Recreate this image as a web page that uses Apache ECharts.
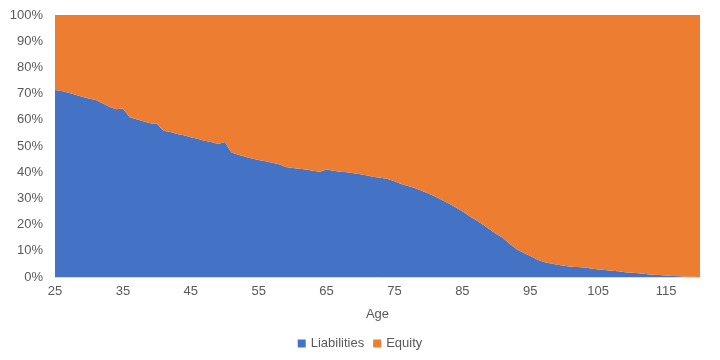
<!DOCTYPE html>
<html>
<head>
<meta charset="utf-8">
<script src="https://cdn.jsdelivr.net/npm/echarts@6/dist/echarts.min.js"></script>
<style>html,body{margin:0;padding:0;background:#fff;}#c{width:720px;height:360px;}</style>
</head>
<body>
<div id="c"></div>
<script>
const ages = [];
for (let a = 25; a <= 120; a++) ages.push(String(a));

const liabilities = [
  71.4, 71.0, 70.3, 69.6, 68.8, 68.1, 67.6, 66.3, 65.0, 64.0,
  64.3, 61.0, 60.2, 59.4, 58.7, 58.5, 55.8, 55.3, 54.6, 54.1,
  53.3, 52.8, 52.0, 51.5, 50.8, 51.5, 47.5, 46.7, 45.9, 45.2,
  44.7, 44.2, 43.6, 43.0, 42.0, 41.6, 41.3, 41.0, 40.6, 40.2,
  41.0, 40.6, 40.2, 40.0, 39.6, 39.2, 38.7, 38.2, 37.9, 37.4,
  36.5, 35.5, 34.7, 34.0, 32.9, 31.9, 30.7, 29.4, 28.1, 26.6,
  25.1, 23.3, 21.8, 20.0, 18.2, 16.4, 14.9, 12.6, 10.6, 9.3,
  8.0, 6.7, 5.7, 5.2, 4.7, 4.3, 3.9, 3.8, 3.6, 3.2,
  2.9, 2.7, 2.4, 2.2, 1.8, 1.6, 1.4, 1.1, 0.9, 0.75,
  0.6, 0.4, 0.25, 0.12, 0.05, 0.0
];
const equity = liabilities.map(v => +(100 - v).toFixed(2));

const seriesNames = ['Liabilities', 'Equity'];
const colors = ['#4472C4', '#ED7D31'];

const chart = echarts.init(document.getElementById('c'));
const txt = '#595959';
const font = 'Liberation Sans, Arial, sans-serif';
chart.setOption({
  animation: false,
  textStyle: { fontFamily: font },
  grid: { left: 55, right: 20, top: 15, bottom: 83 },
  legend: {
    bottom: 5, left: 'center',
    icon: 'rect', itemWidth: 8, itemHeight: 8, itemGap: 9,
    textStyle: { color: txt, fontSize: 13, fontFamily: font },
    data: seriesNames
  },
  xAxis: {
    type: 'category', data: ages, boundaryGap: false,
    name: 'Age', nameLocation: 'middle', nameGap: 31,
    nameTextStyle: { color: txt, fontSize: 13, fontFamily: font },
    axisLine: { lineStyle: { color: '#D9D9D9' } },
    axisTick: { show: false },
    axisLabel: { interval: 9, color: txt, fontSize: 13, margin: 8, fontFamily: font },
    splitLine: { show: false }
  },
  yAxis: {
    type: 'value', min: 0, max: 100, interval: 10,
    axisLine: { show: false }, axisTick: { show: false },
    axisLabel: { formatter: '{value}%', color: txt, fontSize: 13, margin: 12, fontFamily: font },
    splitLine: { show: false }
  },
  series: [
    { name: seriesNames[0], type: 'line', stack: 'total', data: liabilities, symbol: 'none',
      lineStyle: { width: 0 }, itemStyle: { color: colors[0] }, areaStyle: { color: colors[0], opacity: 1 } },
    { name: seriesNames[1], type: 'line', stack: 'total', data: equity, symbol: 'none',
      lineStyle: { width: 0 }, itemStyle: { color: colors[1] }, areaStyle: { color: colors[1], opacity: 1 } }
  ]
});
</script>
</body>
</html>
